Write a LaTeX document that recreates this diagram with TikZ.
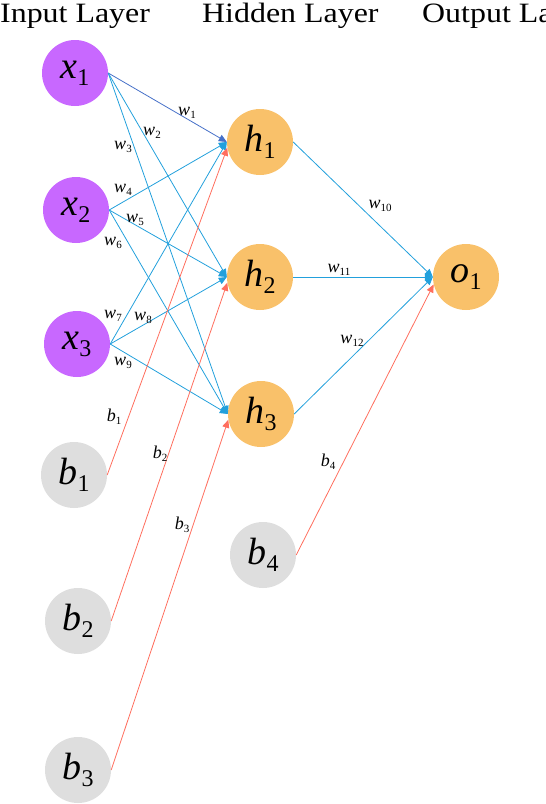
\documentclass[tikz,border=0pt]{standalone}
\usepackage{fontspec}
\setmainfont{Liberation Serif}
\usetikzlibrary{arrows.meta}

\definecolor{inpurple}{RGB}{200,104,255}
\definecolor{hidorange}{RGB}{249,193,106}
\definecolor{biasgray}{RGB}{222,222,222}
\definecolor{wblue}{RGB}{34,160,220}
\definecolor{wdark}{RGB}{70,112,200}
\definecolor{bred}{RGB}{255,110,94}

\newcommand{\laytitle}[1]{\scalebox{1.14}[1]{\fontsize{28}{28}\selectfont #1}}
\newcommand{\nlab}[2]{\fontsize{38}{38}\selectfont\textit{#1}\raisebox{-7pt}{\fontsize{24}{24}\selectfont #2}}
\newcommand{\elab}[2]{\fontsize{18}{18}\selectfont\textit{#1}\raisebox{-3pt}{\fontsize{11}{11}\selectfont #2}}

\tikzset{
    neuron/.style={circle, minimum size=66pt, inner sep=0pt},
    tip/.style={-{Triangle[length=8pt,width=7pt]}},
    wline/.style={draw=#1, line width=0.8pt, tip},
    bline/.style={draw=bred, line width=0.8pt, tip},
    elabel/.style={inner sep=0pt}
}

\begin{document}
\begin{tikzpicture}[x=1pt, y=-1pt]
    \useasboundingbox (0,0) rectangle (546,804);
    \clip (0,0) rectangle (546,804);

    % layer titles
    \node[anchor=base west, inner sep=0pt] (tin)  at (0,22)   {\laytitle{Input Layer}};
    \node[anchor=base west, inner sep=0pt] (thid) at (202,22) {\laytitle{Hidden Layer}};
    \node[anchor=base west, inner sep=0pt] (tout) at (422,22) {\laytitle{Output Layer}};

    % neurons
    \node[neuron, fill=inpurple] (x1) at (75,73)  {\nlab{x}{1}};
    \node[neuron, fill=inpurple] (x2) at (76,210) {\nlab{x}{2}};
    \node[neuron, fill=inpurple] (x3) at (77,344) {\nlab{x}{3}};

    \node[neuron, fill=biasgray] (b1) at (74,475) {\nlab{b}{1}};
    \node[neuron, fill=biasgray] (b2) at (78,621) {\nlab{b}{2}};
    \node[neuron, fill=biasgray] (b3) at (78,770) {\nlab{b}{3}};

    \node[neuron, fill=hidorange] (h1) at (260,142) {\nlab{h}{1}};
    \node[neuron, fill=hidorange] (h2) at (260,277) {\nlab{h}{2}};
    \node[neuron, fill=hidorange] (h3) at (261,414) {\nlab{h}{3}};
    \node[neuron, fill=biasgray]  (b4) at (263,555) {\nlab{b}{4}};

    \node[neuron, fill=hidorange] (o1) at (466,277) {\nlab{o}{1}};

    % weights
    \foreach \i/\j/\c in {1/1/wdark, 1/2/wblue, 1/3/wblue,
                          2/1/wblue, 2/2/wblue, 2/3/wblue,
                          3/1/wblue, 3/2/wblue, 3/3/wblue}
        \draw[wline=\c] (x\i.east) -- (h\j.west);

    \foreach \j in {1,2,3}
        \draw[wline=wblue] (h\j.east) -- (o1.west);

    % biases
    \foreach \k in {1,2,3}
        \draw[bline] (b\k.east) -- (h\k.190);
    \draw[bline] (b4.east) -- (o1.193);

    % labels
    \foreach \n/\x/\y in {1/187/113, 2/152/133, 3/123/147, 4/123/190,
                          5/135/220, 6/113/243, 7/113/316, 8/143/318,
                          9/123/363, 10/380/206, 11/339/270, 12/352/341}
        \node[elabel] (lw\n) at (\x,\y) {\elab{w}{\n}};

    \foreach \n/\x/\y in {1/114/417, 2/160/454, 3/182/525, 4/328/462}
        \node[elabel] (lb\n) at (\x,\y) {\elab{b}{\n}};
\end{tikzpicture}
\end{document}
